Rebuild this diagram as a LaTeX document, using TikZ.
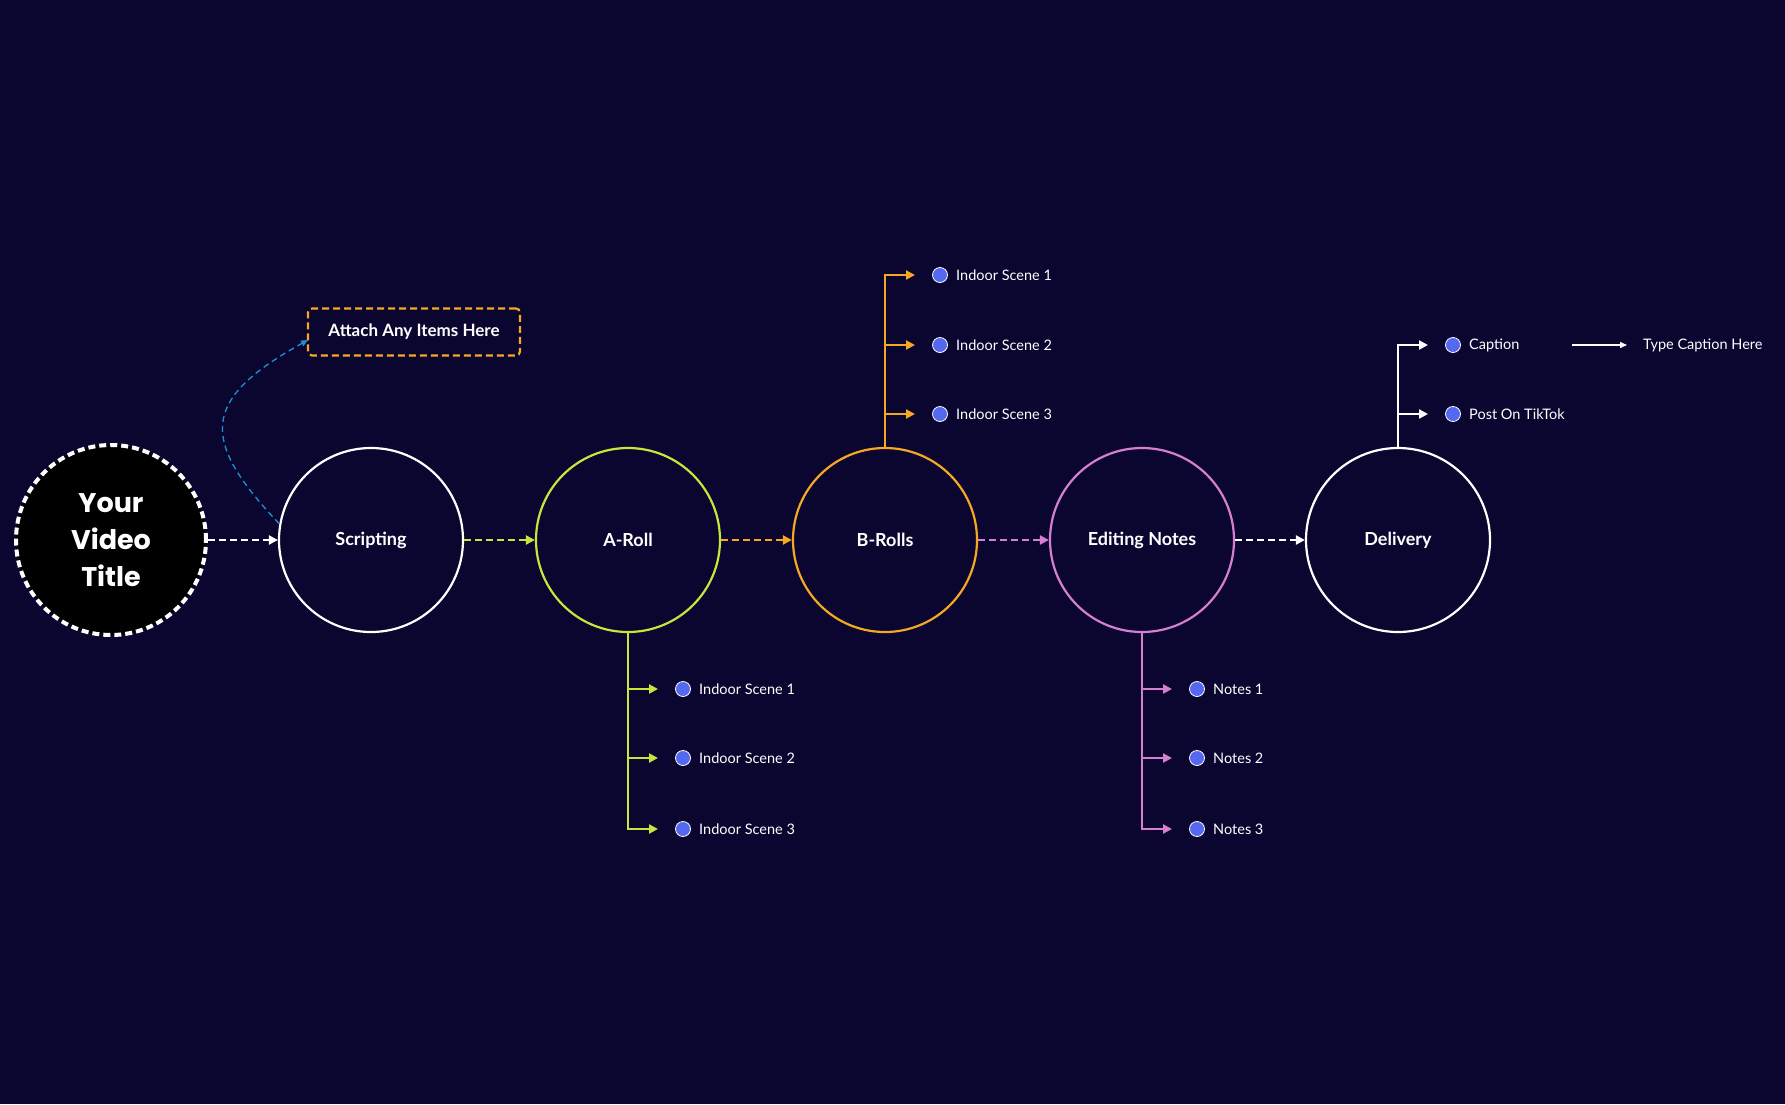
\documentclass[tikz,border=0pt]{standalone}
\usepackage{fontspec}
\setmainfont{Lato}
\newfontfamily\titlefont{Poppins}
\usetikzlibrary{arrows.meta}
\definecolor{bg}{HTML}{0A0630}
\definecolor{cgreen}{HTML}{C5E63C}
\definecolor{corange}{HTML}{F7A823}
\definecolor{cpink}{HTML}{D67FD0}
\definecolor{cbullet}{HTML}{5468F0}
\definecolor{cblue}{HTML}{1E90D0}
\tikzset{
  stage/.style={circle,draw=#1,line width=2.2pt,minimum size=184pt,inner sep=0pt,text=white,font=\fontsize{18}{20}\selectfont\bfseries},
  flow/.style={draw=#1,line width=2.2pt,dash pattern=on 7pt off 4pt,-{Triangle[length=9pt,width=9pt]}},
  branch/.style={draw=#1,line width=2.2pt,-{Triangle[length=9pt,width=9pt]}},
  bullet/.style={circle,draw=white,fill=cbullet,line width=0.8pt,minimum size=15pt,inner sep=0pt},
  itemtxt/.style={anchor=west,text=white,font=\fontsize{14.5}{16}\selectfont,inner sep=0pt},
}
\begin{document}
\begin{tikzpicture}[x=1pt,y=-1pt]
\fill[bg] (0,0) rectangle (1785,1104);
\useasboundingbox (0,0) rectangle (1785,1104);
% title
\node[circle,fill=black,draw=white,line width=4pt,dash pattern=on 7pt off 4pt,minimum size=190pt,inner sep=0pt,text=white,align=center,font=\titlefont\fontsize{27}{37}\selectfont\bfseries] (title) at (111,540) {Your\\Video\\Title};
\node[stage=white] (scr) at (371,540) {Scripting};
\node[stage=cgreen] (ar) at (628,540) {A-Roll};
\node[stage=corange] (br) at (885,540) {B-Rolls};
\node[stage=cpink] (ed) at (1142,540) {Editing Notes};
\node[stage=white] (del) at (1398,540) {Delivery};
\draw[flow=white] (title) -- (scr);
\draw[flow=cgreen] (scr) -- (ar);
\draw[flow=corange] (ar) -- (br);
\draw[flow=cpink] (br) -- (ed);
\draw[flow=white] (ed) -- (del);
% attach box
\node[draw=corange,line width=2.2pt,dash pattern=on 7pt off 4pt,rounded corners=4pt,minimum width=212pt,minimum height=47pt,text=white,font=\fontsize{17}{20}\selectfont\bfseries] (att) at (414,332) {Attach Any Items Here};
\coordinate (attc) at (308,340);
\draw[cblue,line width=1.3pt,dash pattern=on 6pt off 4pt,-{Triangle[length=7pt,width=6pt]}] (scr.170) .. controls (200,440) and (200,400) .. (attc);
% branches
\foreach \n/\c/\sgn/\ya/\yb/\yc/\la/\lb/\lc [count=\i] in {
  ar/cgreen/1/689/758/829/Indoor Scene 1/Indoor Scene 2/Indoor Scene 3,
  br/corange/-1/275/345/414/Indoor Scene 1/Indoor Scene 2/Indoor Scene 3,
  ed/cpink/1/689/758/829/Notes 1/Notes 2/Notes 3}{
  \path (\n) ++(0,\sgn*92) coordinate (s\i);
  \foreach \yy/\lab/\k in {\ya/\la/a,\yb/\lb/b,\yc/\lc/c}{
    \path (s\i|-0,\yy) coordinate (j\i\k);
    \node[bullet] (b\i\k) at ([xshift=55pt]j\i\k) {};
    \node[itemtxt] (t\i\k) at ([xshift=71pt]j\i\k) {\lab};
    \draw[branch=\c] (s\i) |- ([xshift=30pt]j\i\k);
  }
}
% delivery
\path (del) ++(0,-92) coordinate (sd);
\path (sd|-0,345) coordinate (jda);
\path (sd|-0,414) coordinate (jdb);
\node[bullet] (bda) at ([xshift=55pt]jda) {};
\node[itemtxt] (tda) at ([xshift=71pt]jda) {Caption};
\node[bullet] (bdb) at ([xshift=55pt]jdb) {};
\node[itemtxt] (tdb) at ([xshift=71pt]jdb) {Post On TikTok};
\draw[branch=white] (sd) |- ([xshift=30pt]jda);
\draw[branch=white] (sd) |- ([xshift=30pt]jdb);
\node[itemtxt] (tch) at (1643,345) {Type Caption Here};
\coordinate (ca) at (1572,345);
\draw[white,line width=1.3pt,-{Triangle[length=7pt,width=6pt]}] (ca) -- ([xshift=-16pt]tch.west);
\end{tikzpicture}
\end{document}
